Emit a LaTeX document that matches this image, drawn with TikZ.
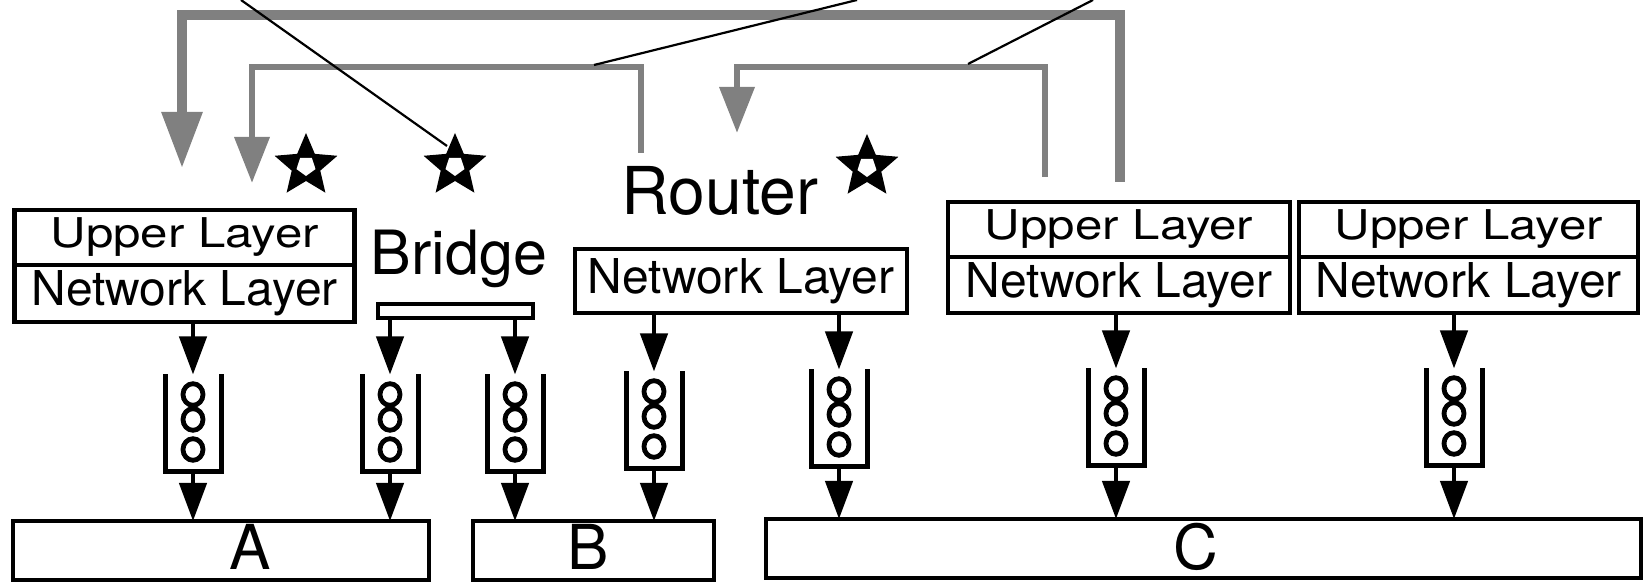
\documentclass[tikz,border=0pt]{standalone}
\usepackage{fontspec}
\setmainfont{TeX Gyre Heros}
\newfontfamily\widefont[FakeStretch=1.2]{TeX Gyre Heros}
\usepackage{tikz}
\usetikzlibrary{shapes.geometric, arrows.meta, positioning, calc}
\definecolor{routegray}{RGB}{128, 128, 128}

\begin{document}
\begin{tikzpicture}[x=0.5pt, y=-0.5pt,
  layer/.style={rectangle, draw, line width=2.4pt,
    font=\fontsize{24pt}{25pt}\selectfont,
    minimum width=170pt, minimum height=28pt,
    text centered, inner sep=0pt, outer sep=0pt},
  upper/.style={layer, font=\widefont\fontsize{20.5pt}{21pt}\selectfont,
    minimum height=27.5pt},
  lan/.style={rectangle, draw, line width=2.4pt,
    minimum height=29.5pt, inner sep=0pt, outer sep=0pt},
  big/.style={font=\fontsize{31pt}{32pt}\selectfont, inner sep=0pt, anchor=base},
  queue/.style={rectangle, minimum width=28pt, minimum height=48.5pt,
    inner sep=0pt, outer sep=0pt},
  wall/.style={line width=2.5pt},
  ball/.style={line width=2.4pt},
  flow/.style={-{Triangle[length=19pt, width=13.5pt]}, line width=2.2pt},
  route/.style={-{Triangle[length=28pt, width=19.5pt]}, line width=4.6pt, color=routegray},
  subroute/.style={-{Triangle[length=23pt, width=17pt]}, line width=3.4pt, color=routegray},
  callout/.style={line width=1.1pt},
  stardot/.style={star, star points=5, star point ratio=2.2, fill=black,
    minimum size=33pt, inner sep=0pt},
  starhole/.style={regular polygon, regular polygon sides=5, shape border rotate=180,
    fill=white, minimum size=10pt, inner sep=0pt}
]
\useasboundingbox (0,0) rectangle (1645,582);
% End systems and relays
\node[upper] at (184.5,237.5) (hostAup) {Upper Layer};
\node[layer, minimum height=28.5pt, below=0pt of hostAup] (hostAnet) {Network Layer};
\node[upper, minimum width=171pt] at (1119,229.5) (hostC1up) {Upper Layer};
\node[layer, minimum width=171pt, below=0pt of hostC1up] (hostC1net) {Network Layer};
\node[upper, minimum width=169.5pt] at (1468.5,229.5) (hostC2up) {Upper Layer};
\node[layer, minimum width=169.5pt, below=0pt of hostC2up] (hostC2net) {Network Layer};
\node[big, font=\fontsize{30.5pt}{31pt}\selectfont] at (459,275) (bridgeName) {Bridge};
\node[rectangle, draw, line width=2.2pt, minimum width=77.5pt, minimum height=7pt,
  inner sep=0pt] at (455.5,311) (bridgeBar) {};
\node[big, font=\fontsize{33pt}{34pt}\selectfont] at (720,215) (routerName) {Router};
\node[layer, minimum width=166pt, minimum height=32pt] at (741,281) (routerNet) {Network Layer};
% LANs
\node[lan, minimum width=208pt] at (221,550.5) (lanA) {};
\node[big] at (250,570) (lanAname) {A};
\node[lan, minimum width=120.5pt] at (593.5,550.5) (lanB) {};
\node[big] at (588,570) (lanBname) {B};
\node[lan, minimum width=437.5pt] at (1203.5,548.5) (lanC) {};
\node[big] at (1196,570) (lanCname) {C};
% Output queues
\node[queue] at (193,423) (q1) {};
\node[queue] at (390,423) (q2) {};
\node[queue] at (515,423) (q3) {};
\node[queue] at (654,420) (q4) {};
\node[queue] at (839,418) (q5) {};
\node[queue] at (1116,417) (q6) {};
\node[queue] at (1454,417) (q7) {};
\foreach \i in {1,...,7} {
  \draw[wall] (q\i.north west) -- (q\i.south west) -- (q\i.south east) -- (q\i.north east);
  \foreach \dy in {20,45,75}
    \draw[ball] ($(q\i.north)+(0,\dy)$) ellipse [x radius=5pt, y radius=5.4pt];
}
% Into and out of the queues
\draw[flow] (q1 |- hostAnet.south) -- (q1.north);
\draw[flow] (q1.south) -- (q1 |- lanA.north);
\draw[flow] (q2 |- bridgeBar.south) -- (q2.north);
\draw[flow] (q2.south) -- (q2 |- lanA.north);
\draw[flow] (q3 |- bridgeBar.south) -- (q3.north);
\draw[flow] (q3.south) -- (q3 |- lanB.north);
\draw[flow] (q4 |- routerNet.south) -- (q4.north);
\draw[flow] (q4.south) -- (q4 |- lanB.north);
\draw[flow] (q5 |- routerNet.south) -- (q5.north);
\draw[flow] (q5.south) -- (q5 |- lanC.north);
\draw[flow] (q6 |- hostC1net.south) -- (q6.north);
\draw[flow] (q6.south) -- (q6 |- lanC.north);
\draw[flow] (q7 |- hostC2net.south) -- (q7.north);
\draw[flow] (q7.south) -- (q7 |- lanC.north);
% Stars
\node[stardot] at (306,166) (starA) {};
\node[starhole] at (starA) (starAhole) {};
\node[stardot] at (455,166) (starBr) {};
\node[starhole] at (starBr) (starBrhole) {};
\node[stardot] at (867,167) (starR) {};
\node[starhole] at (starR) (starRhole) {};
% Gray paths over the top
\coordinate (railTop) at (0,15);
\coordinate (railMid) at (0,67);
\coordinate (fromC1a) at (1120,182);
\coordinate (toAa) at (182,168);
\coordinate (fromR) at (641,153);
\coordinate (toAb) at (252,183);
\coordinate (fromC1b) at (1045,177);
\coordinate (toR) at (737,133);
\draw[route] (fromC1a) -- (fromC1a |- railTop) -| (toAa);
\draw[subroute] (fromR) -- (fromR |- railMid) -| (toAb);
\draw[subroute] (fromC1b) -- (fromC1b |- railMid) -| (toR);
% Callout lines
\coordinate (noteL) at (241,0);
\coordinate (noteM) at (857,0);
\coordinate (noteR) at (1093,0);
\coordinate (tipL) at (447,146);
\coordinate (tipM) at (594,65);
\coordinate (tipR) at (968,64);
\draw[callout] (noteL) -- (tipL);
\draw[callout] (noteM) -- (tipM);
\draw[callout] (noteR) -- (tipR);
\end{tikzpicture}
\end{document}
